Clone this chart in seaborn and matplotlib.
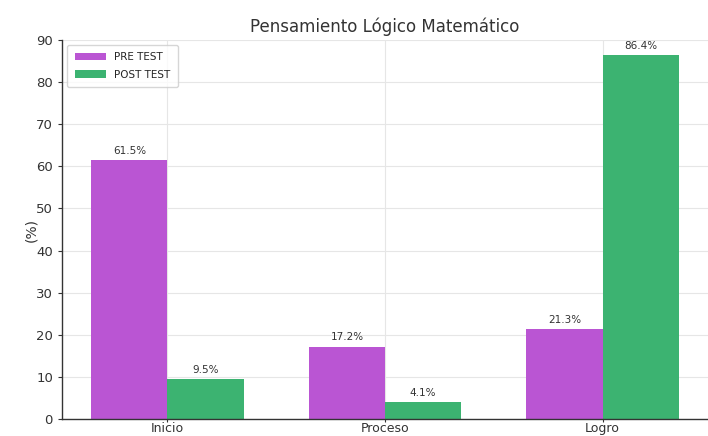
import matplotlib
matplotlib.use("Agg")
import matplotlib.pyplot as plt
import seaborn as sns
import pandas as pd

categories = ["Inicio", "Proceso", "Logro"]
pre_test = [61.5, 17.2, 21.3]
post_test = [9.5, 4.1, 86.4]
series_names = ["PRE TEST", "POST TEST"]
colors = ["#BA55D3", "#3CB371"]

df = pd.DataFrame({
    "Nivel": categories * 2,
    "Valor": pre_test + post_test,
    "Prueba": [series_names[0]] * 3 + [series_names[1]] * 3,
})

sns.set_style("whitegrid")
plt.rcParams["font.family"] = ["DejaVu Sans"]

fig = plt.figure(figsize=(7.08, 4.36), dpi=100)
ax = fig.add_axes([62 / 708, 17 / 436, (708 - 62) / 708, (419 - 40) / 436])

sns.barplot(data=df, x="Nivel", y="Valor", hue="Prueba", palette=colors,
            width=0.7, ax=ax, saturation=1, linewidth=0, edgecolor="none")

for cont in ax.containers:
    ax.bar_label(cont, fmt="%.1f%%", fontsize=7.5, color="#333333", padding=3)

ax.set_ylim(0, 90)
ax.set_xlim(-0.485, 2.485)
ax.set_xlabel("")
ax.set_ylabel("(%)", fontsize=10, color="#333333")
ax.yaxis.set_label_coords(-0.036, 0.5)
ax.set_title("Pensamiento Lógico Matemático", fontsize=12, color="#333333", pad=6)
ax.tick_params(axis="both", labelsize=9.5, colors="#333333", length=3, left=True, bottom=True)
ax.tick_params(axis="x", pad=0, labelsize=9, length=2)
ax.grid(True, color="#e6e6e6", linewidth=0.8)
for s in ["top", "right"]:
    ax.spines[s].set_visible(False)
for s in ["left", "bottom"]:
    ax.spines[s].set_color("#333333")
    ax.spines[s].set_linewidth(1.0)

leg = ax.legend(loc="upper left", fontsize=7.5, frameon=True, title=None,
                borderpad=0.7, handlelength=3.0, labelspacing=0.7)
leg.get_frame().set_edgecolor("#cccccc")

fig.savefig("out.png", dpi=100)
